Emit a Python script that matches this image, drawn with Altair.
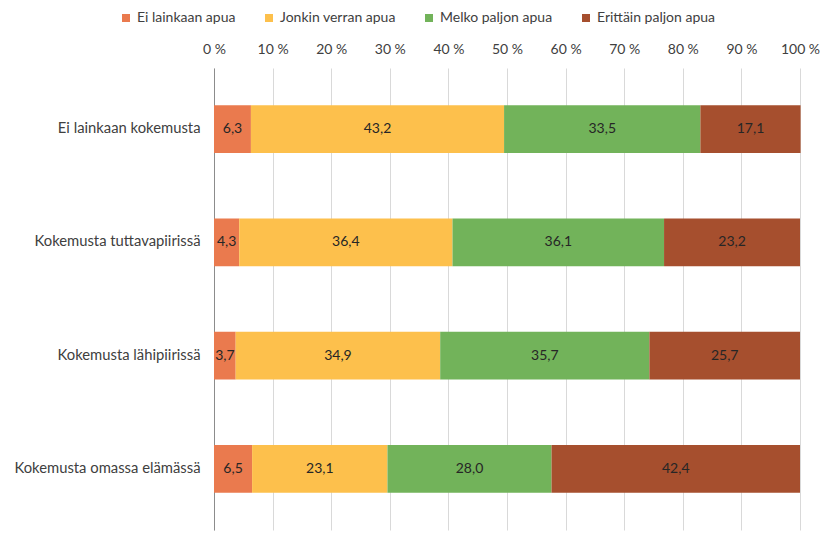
import altair as alt
import pandas as pd

categories = ["Ei lainkaan kokemusta", "Kokemusta tuttavapiirissä",
              "Kokemusta lähipiirissä", "Kokemusta omassa elämässä"]
series = ["Ei lainkaan apua", "Jonkin verran apua", "Melko paljon apua", "Erittäin paljon apua"]
values = {
    "Ei lainkaan apua":     [6.3, 4.3, 3.7, 6.5],
    "Jonkin verran apua":   [43.2, 36.4, 34.9, 23.1],
    "Melko paljon apua":    [33.5, 36.1, 35.7, 28.0],
    "Erittäin paljon apua": [17.1, 23.2, 25.7, 42.4],
}
colors = ["#EA7A4E", "#FDC04C", "#72B35A", "#A64F2E"]
ticks = [0, 10, 20, 30, 40, 50, 60, 70, 80, 90, 100]

rows = []
for si, s in enumerate(series):
    for ci, c in enumerate(categories):
        rows.append({"cat": c, "series": s, "order": si, "value": values[s][ci]})
df = pd.DataFrame(rows)

FONT = "Lato"
TXT = "#404040"

base = alt.Chart(df).transform_stack(
    stack="value", as_=["x0", "x1"], groupby=["cat"], sort=[{"field": "order"}]
).transform_calculate(
    mid="(datum.x0 + datum.x1) / 2",
    lab="replace(format(datum.value, '.1f'), '.', ',')",
)

y = alt.Y("cat:N", sort=categories, title=None,
          scale=alt.Scale(paddingInner=0.58, paddingOuter=0.33),
          axis=alt.Axis(ticks=False, domain=True, domainColor="#8c8c8c", labelFont=FONT,
                        labelFontSize=14.8, labelColor=TXT, labelPadding=14, grid=False,
                        labelLimit=300))

bars = base.mark_bar(stroke=None).encode(
    x=alt.X("x0:Q", scale=alt.Scale(domain=[0, 100], nice=False), title=None,
            axis=alt.Axis(orient="top", values=ticks, labelExpr="datum.value + ' %'",
                          domain=False, ticks=False, grid=True, gridColor="#d9d9d9",
                          labelFont=FONT, labelFontSize=14, labelColor=TXT,
                          labelPadding=12, labelFlush=False)),
    x2="x1:Q",
    y=y,
    color=alt.Color("series:N", sort=series,
                    scale=alt.Scale(domain=series, range=colors),
                    legend=alt.Legend(title=None, orient="none", direction="horizontal",
                                      legendX=-95, legendY=-57, symbolType="square",
                                      symbolSize=65, labelFont=FONT, labelFontSize=14,
                                      labelColor=TXT, columnPadding=26, labelOffset=4,
                                      gridAlign="each", symbolStrokeWidth=0,
                                      labelLimit=300)),
    order=alt.Order("order:Q"),
)

texts = base.mark_text(font=FONT, fontSize=14, color="#262626").encode(
    x=alt.X("mid:Q"),
    y=alt.Y("cat:N", sort=categories),
    text="lab:N",
)

chart = (bars + texts).properties(
    width=586, height=462,
    autosize=alt.AutoSizeParams(type="none"),
    padding={"left": 206, "top": 60, "right": 20, "bottom": 10},
).configure_view(stroke=None)

chart.save("out.html", embed_options={"renderer": "svg", "actions": False})
